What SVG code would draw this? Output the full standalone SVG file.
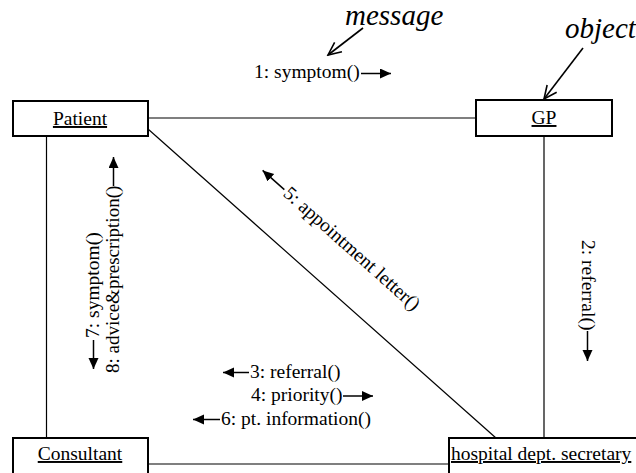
<svg xmlns="http://www.w3.org/2000/svg" width="636" height="473" viewBox="0 0 636 473">
  <style>
    .box { fill: #fff; stroke: #000; stroke-width: 2; }
    .conn { stroke: #000; stroke-width: 1.2; fill: none; }
    .lbl { font-family: "Liberation Serif", "Times New Roman", serif; font-size: 19.5px; fill: #000; }
    .name { font-family: "Liberation Serif", "Times New Roman", serif; font-size: 19.5px; fill: #000; text-decoration: underline; }
    .note { font-family: "Liberation Serif", "Times New Roman", serif; font-size: 29px; font-style: italic; fill: #000; }
    .msg { stroke: #000; stroke-width: 1.5; fill: none; marker-end: url(#solid); }
    .ptr { stroke: #000; stroke-width: 1.6; fill: none; marker-end: url(#open); }
  </style>
  <defs>
    <marker id="solid" markerUnits="userSpaceOnUse" markerWidth="12" markerHeight="11" refX="11" refY="5" orient="auto">
      <path d="M0,0 L11,5 L0,10 z" fill="#000"/>
    </marker>
    <marker id="open" markerUnits="userSpaceOnUse" markerWidth="16" markerHeight="16" refX="14" refY="8" orient="auto">
      <path d="M1,2 L14,8 L1,14" fill="none" stroke="#000" stroke-width="1.6"/>
    </marker>
  </defs>
  <rect width="636" height="473" fill="#fff"/>

  <!-- links between objects -->
  <g id="connectors">
    <line class="conn" x1="148" y1="118" x2="476" y2="118"/>
    <line class="conn" x1="46.5" y1="136" x2="46.5" y2="438"/>
    <line class="conn" x1="148" y1="129" x2="496" y2="438"/>
    <line class="conn" x1="544" y1="136" x2="544" y2="438"/>
    <line class="conn" x1="148" y1="464" x2="449" y2="464"/>
  </g>

  <!-- objects -->
  <g id="patient">
    <rect class="box" x="13" y="101" width="135" height="35"/>
    <text class="name" x="80" y="125" text-anchor="middle">Patient</text>
  </g>
  <g id="gp">
    <rect class="box" x="476" y="100" width="136" height="36"/>
    <text class="name" x="544" y="124" text-anchor="middle">GP</text>
  </g>
  <g id="consultant">
    <rect class="box" x="13" y="438" width="135" height="50"/>
    <text class="name" x="80" y="460" text-anchor="middle">Consultant</text>
  </g>
  <g id="secretary">
    <rect class="box" x="449" y="438" width="200" height="50"/>
    <text class="name" x="451" y="460">hospital dept. secretary</text>
  </g>

  <!-- messages -->
  <g id="messages">
    <text class="lbl" x="254" y="78">1: symptom()</text>
    <line class="msg" x1="361" y1="73.5" x2="391" y2="73.5"/>

    <g transform="translate(582,240) rotate(90)">
      <text class="lbl" x="0" y="0">2: referral()</text>
      <line class="msg" x1="91" y1="-5.5" x2="121" y2="-5.5"/>
    </g>

    <line class="msg" x1="249" y1="372.5" x2="223" y2="372.5"/>
    <text class="lbl" x="250" y="378">3: referral()</text>
    <text class="lbl" x="251" y="401">4: priority()</text>
    <line class="msg" x1="343" y1="396" x2="373" y2="396"/>
    <line class="msg" x1="220" y1="419.5" x2="193" y2="419.5"/>
    <text class="lbl" x="221" y="425">6: pt. information()</text>

    <g transform="translate(259,174.5) rotate(41.6)">
      <line class="msg" x1="29" y1="-5.5" x2="0" y2="-5.5"/>
      <text class="lbl" x="31" y="0">5: appointment letter()</text>
    </g>

    <g transform="translate(99,371) rotate(-90)">
      <line class="msg" x1="31" y1="-5.5" x2="2" y2="-5.5"/>
      <text class="lbl" x="33" y="0">7: symptom()</text>
      <text class="lbl" x="-2" y="20" style="font-size:19px">8: advice&amp;prescription()</text>
      <line class="msg" x1="185" y1="14.5" x2="214" y2="14.5"/>
    </g>
  </g>

  <!-- annotations -->
  <g id="annotations">
    <text class="note" x="345" y="25">message</text>
    <line class="ptr" x1="363" y1="28" x2="328" y2="55"/>
    <text class="note" x="565" y="38">object</text>
    <line class="ptr" x1="583" y1="48" x2="544" y2="99"/>
  </g>
</svg>
